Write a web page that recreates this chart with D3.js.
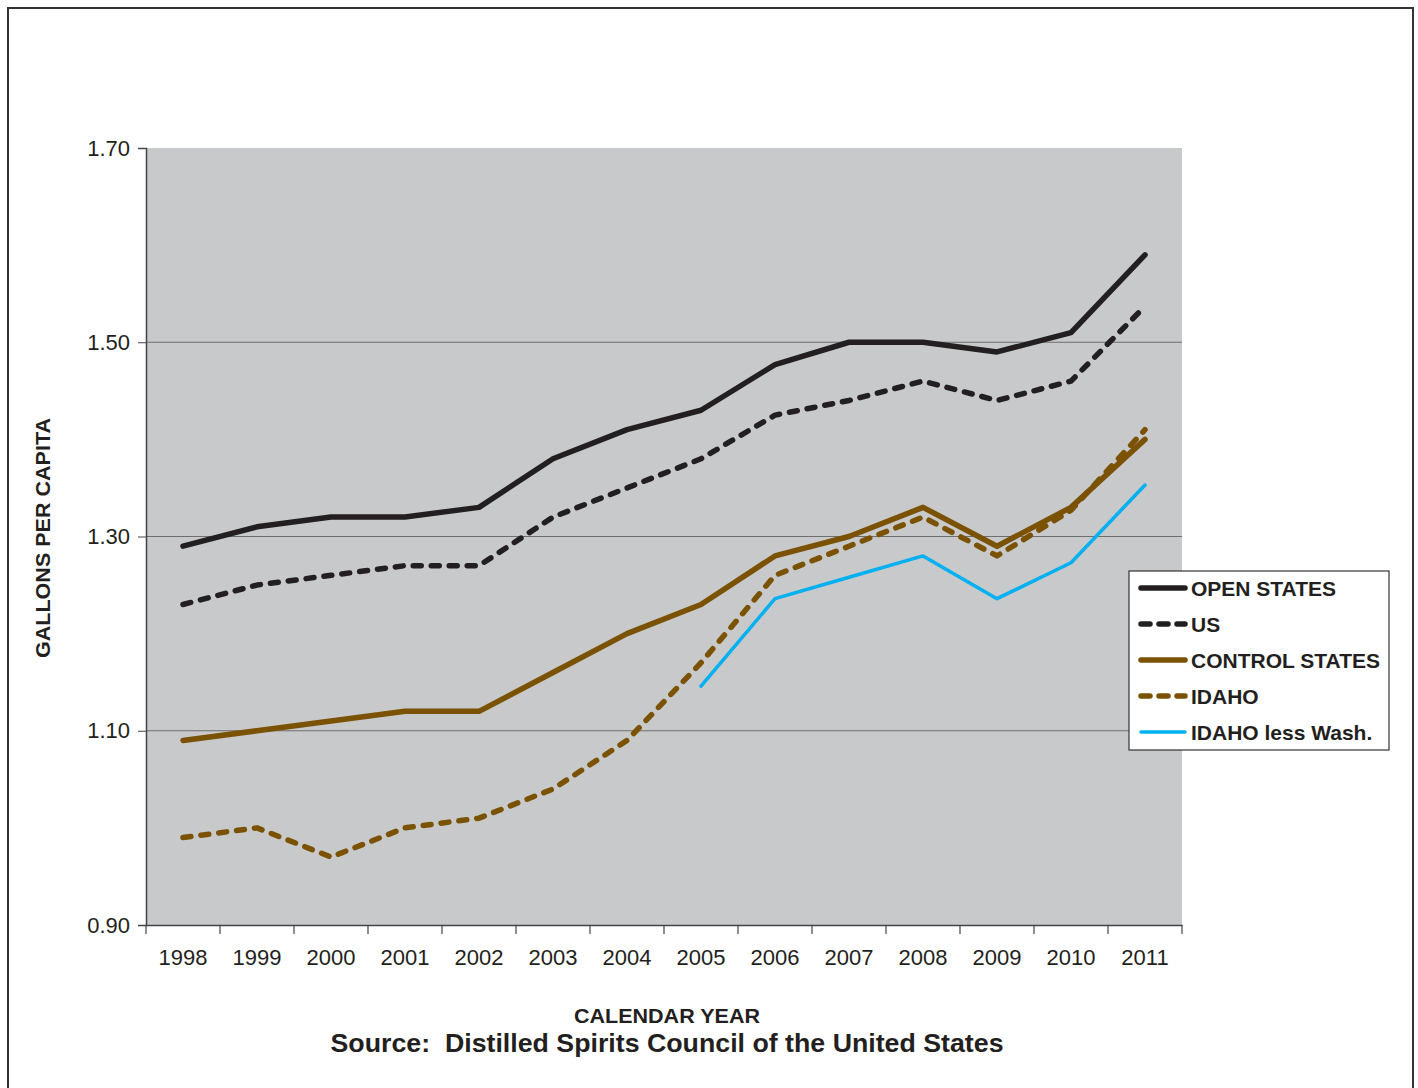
<!DOCTYPE html>
<html>
<head>
<meta charset="utf-8">
<script src="https://cdn.jsdelivr.net/npm/d3@7"></script>
<style>
  body { margin: 0; background: #fff; }
  svg { display: block; font-family: "Liberation Sans", Arial, sans-serif; }
</style>
</head>
<body>
<svg id="chart" width="1418" height="1088"></svg>
<script>
// ── Data ─────────────────────────────────────────────────────────────────────
const years = ["1998", "1999", "2000", "2001", "2002", "2003", "2004",
               "2005", "2006", "2007", "2008", "2009", "2010", "2011"];
const openStates    = [1.29, 1.31, 1.32, 1.32, 1.33, 1.38, 1.41, 1.43, 1.477, 1.50, 1.50, 1.49, 1.51, 1.59];
const us            = [1.23, 1.25, 1.26, 1.27, 1.27, 1.32, 1.35, 1.38, 1.425, 1.44, 1.46, 1.44, 1.46, 1.537];
const controlStates = [1.09, 1.10, 1.11, 1.12, 1.12, 1.16, 1.20, 1.23, 1.28, 1.30, 1.33, 1.29, 1.33, 1.40];
const idaho         = [0.99, 1.00, 0.97, 1.00, 1.01, 1.04, 1.09, 1.17, 1.26, 1.29, 1.32, 1.28, 1.327, 1.41];
const idahoLessWash = [null, null, null, null, null, null, null, 1.146, 1.236, 1.258, 1.28, 1.236, 1.273, 1.353];
const yTicks = [0.90, 1.10, 1.30, 1.50, 1.70];

const series = [
  { name: "OPEN STATES", values: openStates, color: "#231f20", width: 5.5, dash: null },
  { name: "US", values: us, color: "#231f20", width: 5.5, dash: "8,10" },
  { name: "CONTROL STATES", values: controlStates, color: "#7a5200", width: 5.5, dash: null },
  { name: "IDAHO", values: idaho, color: "#7a5200", width: 5.5, dash: "8,10" },
  { name: "IDAHO less Wash.", values: idahoLessWash, color: "#00b0f0", width: 3.5, dash: null },
];

// ── Layout ───────────────────────────────────────────────────────────────────
const svg = d3.select("#chart");
const plot = { left: 146, right: 1182, top: 148, bottom: 925 };

// outer frame
svg.append("rect")
  .attr("x", 8).attr("y", 8).attr("width", 1405).attr("height", 1100)
  .attr("fill", "none").attr("stroke", "#333").attr("stroke-width", 2);

const x = d3.scaleBand().domain(years).range([plot.left, plot.right]);
const y = d3.scaleLinear().domain([0.9, 1.7]).range([plot.bottom, plot.top]);

svg.append("rect")
  .attr("x", plot.left).attr("y", plot.top)
  .attr("width", plot.right - plot.left).attr("height", plot.bottom - plot.top)
  .attr("fill", "#c8c9cb");

// gridlines
svg.append("g")
  .selectAll("line")
  .data(yTicks.slice(1, -1))
  .join("line")
  .attr("x1", plot.left).attr("x2", plot.right)
  .attr("y1", (d) => y(d)).attr("y2", (d) => y(d))
  .attr("stroke", "#6e6e6e").attr("stroke-width", 1.2);

// y axis
const yAxis = svg.append("g")
  .attr("transform", `translate(${plot.left},0)`)
  .call(d3.axisLeft(y).tickValues(yTicks).tickFormat(d3.format(".2f")).tickSize(8).tickPadding(8));
yAxis.select(".domain").attr("stroke", "#444").attr("stroke-width", 1.5);
yAxis.selectAll(".tick line").attr("stroke", "#444");
yAxis.selectAll("text").attr("font-size", 22).attr("fill", "#231f20")
  .attr("font-family", "'Liberation Sans', Arial, sans-serif");

// x axis, ticks on band edges
const xAxis = svg.append("g")
  .attr("transform", `translate(0,${plot.bottom})`)
  .call(d3.axisBottom(x).tickSize(0).tickPadding(24));
xAxis.select(".domain").attr("stroke", "#444").attr("stroke-width", 1.5);
xAxis.selectAll("text").attr("font-size", 22).attr("fill", "#231f20")
  .attr("font-family", "'Liberation Sans', Arial, sans-serif");
xAxis.selectAll(".edge")
  .data(years.map((yr) => x(yr)).concat([plot.right]))
  .join("line")
  .attr("class", "edge")
  .attr("x1", (d) => d).attr("x2", (d) => d)
  .attr("y1", 0).attr("y2", 9)
  .attr("stroke", "#444").attr("stroke-width", 1.2);

// ── Lines ────────────────────────────────────────────────────────────────────
const line = d3.line()
  .defined((d) => d != null)
  .x((d, i) => x(years[i]) + x.bandwidth() / 2)
  .y((d) => y(d));

svg.append("g")
  .selectAll("path")
  .data(series)
  .join("path")
  .attr("d", (s) => line(s.values))
  .attr("fill", "none")
  .attr("stroke", (s) => s.color)
  .attr("stroke-width", (s) => s.width)
  .attr("stroke-dasharray", (s) => s.dash)
  .attr("stroke-linecap", "round")
  .attr("stroke-linejoin", "round");

// ── Legend ───────────────────────────────────────────────────────────────────
const legend = svg.append("g").attr("transform", "translate(1129,571)");
legend.append("rect")
  .attr("width", 260).attr("height", 179)
  .attr("fill", "#fff").attr("stroke", "#333").attr("stroke-width", 1.2);

const row = legend.selectAll(".row")
  .data(series)
  .join("g")
  .attr("class", "row")
  .attr("transform", (d, i) => `translate(0,${17 + i * 36})`);

row.append("line")
  .attr("x1", 12).attr("x2", 56).attr("y1", 0).attr("y2", 0)
  .attr("stroke", (s) => s.color)
  .attr("stroke-width", (s) => s.width)
  .attr("stroke-dasharray", (s) => s.dash ? "9,9" : null)
  .attr("stroke-linecap", "round");

row.append("text")
  .attr("x", 62).attr("dy", "0.36em")
  .attr("font-size", 21).attr("font-weight", "bold").attr("fill", "#231f20")
  .text((s) => s.name);

// ── Titles ───────────────────────────────────────────────────────────────────
svg.append("text")
  .attr("transform", "translate(50,538) rotate(-90)")
  .attr("text-anchor", "middle")
  .attr("font-size", 20).attr("font-weight", "bold").attr("fill", "#231f20")
  .attr("textLength", 240).attr("lengthAdjust", "spacingAndGlyphs")
  .text("GALLONS PER CAPITA");

svg.append("text")
  .attr("x", 667).attr("y", 1023)
  .attr("text-anchor", "middle")
  .attr("font-size", 21).attr("font-weight", "bold").attr("fill", "#231f20")
  .attr("textLength", 186).attr("lengthAdjust", "spacingAndGlyphs")
  .text("CALENDAR YEAR");

svg.append("text")
  .attr("x", 667).attr("y", 1052)
  .attr("text-anchor", "middle")
  .attr("font-size", 26).attr("font-weight", "bold").attr("fill", "#231f20")
  .attr("textLength", 673).attr("lengthAdjust", "spacingAndGlyphs")
  .style("white-space", "pre")
  .text("Source:  Distilled Spirits Council of the United States");
</script>
</body>
</html>
